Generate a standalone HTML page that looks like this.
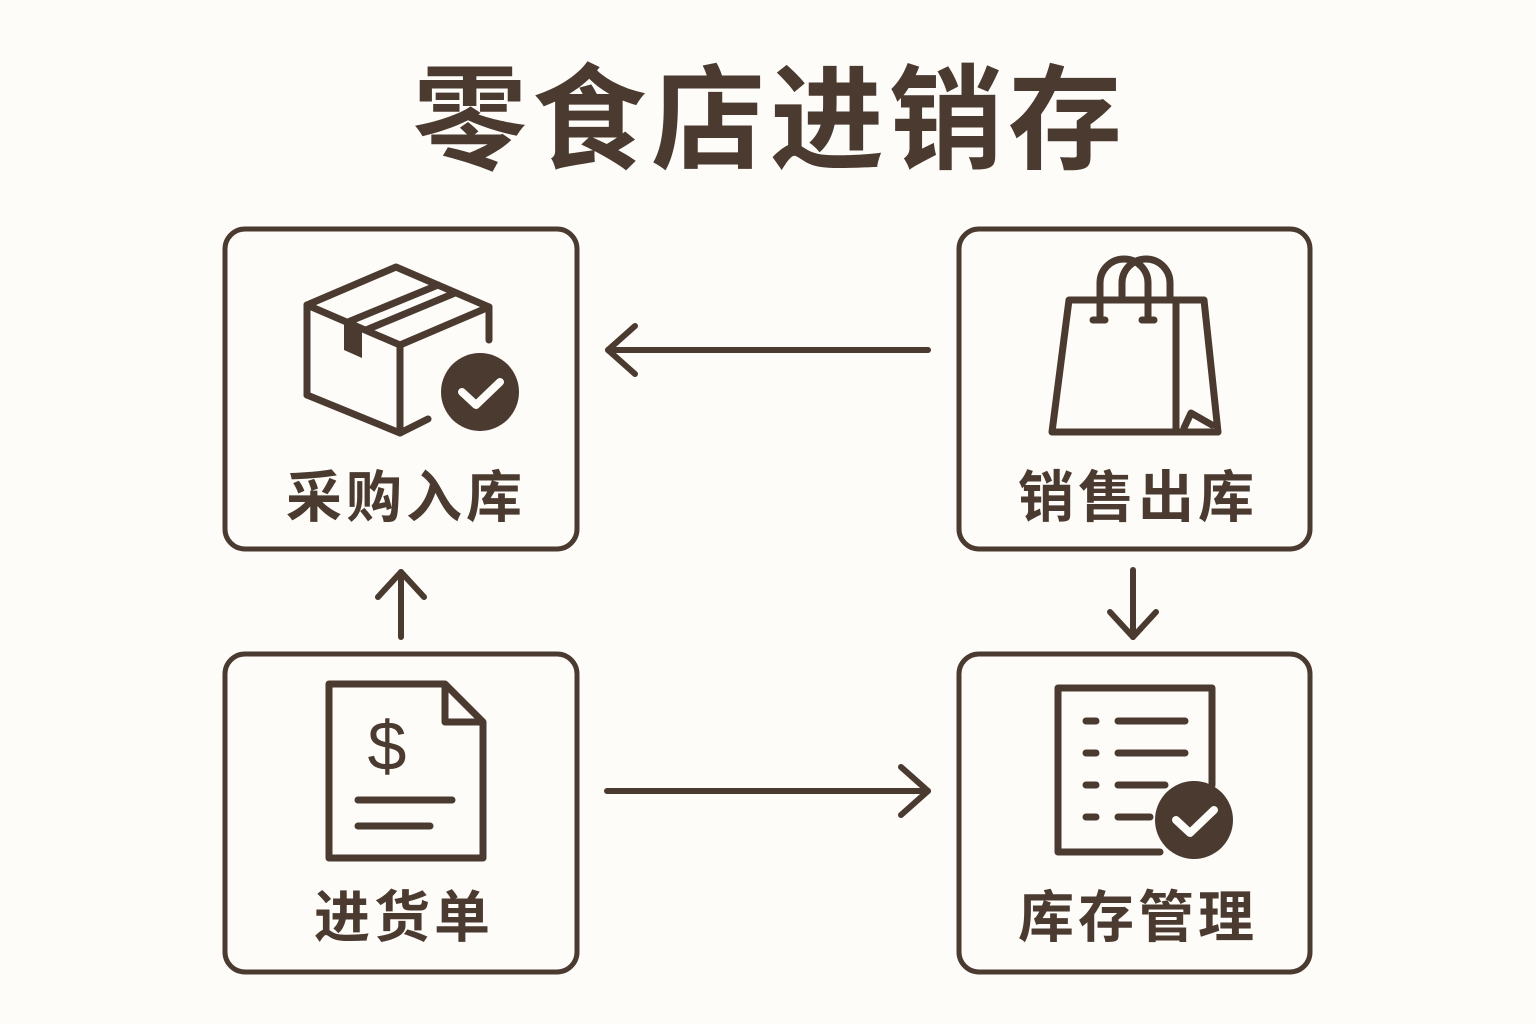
<!DOCTYPE html>
<html><head><meta charset="utf-8"><style>
html,body{margin:0;padding:0;background:#fdfcf8;}
svg{display:block}
text{font-family:"Liberation Sans","Noto Sans CJK SC",sans-serif;font-weight:700;fill:#4a3a30}
</style></head><body>
<svg width="1536" height="1024" viewBox="0 0 1536 1024" xmlns="http://www.w3.org/2000/svg">
<rect width="1536" height="1024" fill="#fdfcf8"/>
<text x="770" y="160" font-size="114" text-anchor="middle" letter-spacing="5">零食店进销存</text>
<g fill="none" stroke="#4a3a30" stroke-width="5" stroke-linecap="round" stroke-linejoin="round">
<rect x="225" y="229" width="352" height="320" rx="20"/>
<rect x="959" y="229" width="351" height="320" rx="20"/>
<rect x="225" y="654" width="352" height="318" rx="20"/>
<rect x="959" y="654" width="351" height="318" rx="20"/>
</g>
<g fill="none" stroke="#4a3a30" stroke-width="6" stroke-linecap="round" stroke-linejoin="round">
<line x1="928" y1="350" x2="608" y2="350"/><polyline points="635,326 608,350 635,374"/>
<line x1="607" y1="791" x2="928" y2="791"/><polyline points="901,767 928,791 901,815"/>
<line x1="401" y1="637" x2="401" y2="572"/><polyline points="378,597 401,572 424,597"/>
<line x1="1133" y1="570" x2="1133" y2="637"/><polyline points="1110,612 1133,637 1156,612"/>
</g>
<text x="406" y="517" font-size="56" text-anchor="middle" letter-spacing="4">采购入库</text>
<text x="1138" y="517" font-size="56" text-anchor="middle" letter-spacing="4">销售出库</text>
<text x="404" y="937" font-size="56" text-anchor="middle" letter-spacing="4">进货单</text>
<text x="1138" y="937" font-size="56" text-anchor="middle" letter-spacing="4">库存管理</text>
<!-- box icon -->
<g fill="none" stroke="#4a3a30" stroke-width="7" stroke-linecap="round" stroke-linejoin="round">
<polyline points="307,395 307,305 396,267 489,307 489,340"/>
<polyline points="307,305 400,345 489,307"/>
<line x1="400" y1="345" x2="400" y2="433"/>
<polyline points="307,395 400,433 428,419"/>
<line x1="348" y1="322" x2="438" y2="285"/>
<line x1="366" y1="330" x2="455" y2="293"/>
</g>
<polygon points="344,320 362,328 362,358 344,350" fill="#4a3a30"/>
<circle cx="480" cy="392" r="39" fill="#4a3a30"/>
<polyline points="462,392 476,405 500,382" fill="none" stroke="#fdfcf8" stroke-width="8" stroke-linecap="round" stroke-linejoin="round"/>
<!-- bag -->
<g fill="none" stroke="#4a3a30" stroke-width="7" stroke-linecap="round" stroke-linejoin="round">
<polygon points="1069,300 1204,300 1218,432 1052,432"/>
<line x1="1176" y1="302" x2="1176" y2="432"/>
<polyline points="1184,428 1191,413 1212,425"/>
<path d="M1100,318 V283 A24,24 0 0 1 1148,283 V318"/>
<path d="M1122,300 V283 A24,24 0 0 1 1170,283 V300"/>
<line x1="1093" y1="320" x2="1105" y2="320"/>
<line x1="1142" y1="320" x2="1154" y2="320"/>
</g>
<!-- document -->
<g fill="none" stroke="#4a3a30" stroke-width="7" stroke-linecap="round" stroke-linejoin="round">
<polygon points="329,684 445,684 483,722 483,858 329,858"/>
<polyline points="445,686 445,722 481,722"/>
<line x1="358" y1="800" x2="452" y2="800"/>
<line x1="358" y1="826" x2="430" y2="826"/>
</g>
<text x="387" y="770" font-size="70" text-anchor="middle" style="font-weight:400">$</text>
<!-- checklist -->
<g fill="none" stroke="#4a3a30" stroke-width="7" stroke-linecap="round" stroke-linejoin="round">
<path d="M1160,852 H1058 V688 H1212 V785"/>
<line x1="1086" y1="721" x2="1096" y2="721"/><line x1="1118" y1="721" x2="1185" y2="721"/>
<line x1="1086" y1="753" x2="1096" y2="753"/><line x1="1118" y1="753" x2="1185" y2="753"/>
<line x1="1086" y1="785" x2="1096" y2="785"/><line x1="1118" y1="785" x2="1165" y2="785"/>
<line x1="1086" y1="817" x2="1096" y2="817"/><line x1="1118" y1="817" x2="1150" y2="817"/>
</g>
<circle cx="1194" cy="820" r="39" fill="#4a3a30"/>
<polyline points="1176,820 1190,833 1214,810" fill="none" stroke="#fdfcf8" stroke-width="8" stroke-linecap="round" stroke-linejoin="round"/>
</svg>
</body></html>
